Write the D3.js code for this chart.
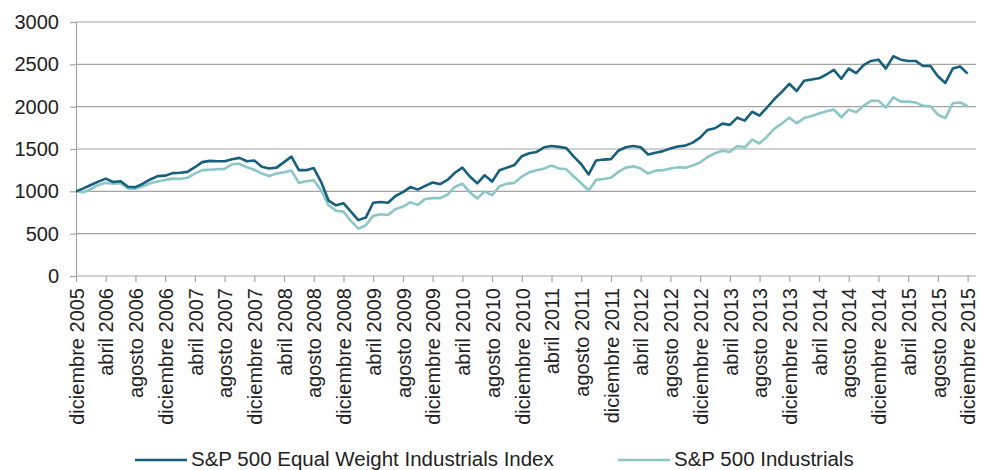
<!DOCTYPE html>
<html>
<head>
<meta charset="utf-8">
<script src="https://cdn.jsdelivr.net/npm/d3@7"></script>
<style>
  body { margin: 0; background: #fff; }
  text { font-family: "Liberation Sans", Arial, sans-serif; fill: #222; }
</style>
</head>
<body>
<div id="canvas"></div>
<script>
// monthly values, diciembre 2005 .. diciembre 2015
const equalWeight = [
  1000, 1035, 1075, 1115, 1150, 1110, 1120, 1055, 1050, 1090, 1140, 1180,
  1185, 1215, 1220, 1230, 1285, 1345, 1360, 1355, 1355, 1380, 1395, 1355,
  1365, 1290, 1270, 1280, 1345, 1410, 1250, 1250, 1275, 1110, 890, 835,
  860, 760, 660, 690, 865, 875, 865, 945, 990, 1050, 1020, 1065,
  1105, 1085, 1135, 1220, 1280, 1175, 1095, 1190, 1115, 1250, 1280, 1310,
  1415, 1450, 1465, 1520, 1535, 1525, 1510, 1410, 1320, 1200, 1365, 1375,
  1380, 1480, 1520, 1535, 1520, 1435, 1455, 1475, 1505, 1530, 1540, 1575,
  1635, 1725, 1745, 1800, 1785, 1870, 1835, 1940, 1895, 1990, 2090, 2175,
  2270, 2185, 2305, 2320, 2335, 2380, 2435, 2330, 2450, 2395, 2490, 2540,
  2555, 2450, 2595, 2555, 2540, 2540, 2480, 2480, 2360, 2280, 2450, 2475,
  2390
];
const industrials = [
  1000, 990, 1025, 1075, 1100, 1090, 1095, 1030, 1030, 1060, 1095, 1115,
  1135, 1150, 1145, 1160, 1210, 1250, 1255, 1260, 1265, 1320, 1325, 1285,
  1255, 1210, 1180, 1210, 1225, 1245, 1100, 1120, 1130, 1010, 835, 770,
  760, 650, 560, 600, 710, 730, 720, 790, 820, 870, 840, 910,
  920, 920, 960, 1055, 1090, 990, 915, 1000, 955, 1060, 1090, 1100,
  1175, 1225, 1250, 1270, 1305, 1270, 1260, 1175, 1095, 1010, 1135, 1145,
  1160, 1230, 1280, 1295, 1270, 1210, 1245, 1250, 1270, 1285, 1280, 1305,
  1340, 1405, 1450, 1480, 1465, 1535, 1520, 1610, 1565, 1645, 1740, 1800,
  1870, 1805, 1865, 1890, 1920, 1945, 1965, 1875, 1965, 1935, 2010, 2070,
  2070, 1990, 2110, 2060, 2060, 2050, 2010, 2005, 1905, 1865, 2040, 2050,
  2005
];
const xLabels = [];
for (let y = 2005; y <= 2015; y++) {
  if (y > 2005) { xLabels.push("abril " + y); xLabels.push("agosto " + y); }
  xLabels.push("diciembre " + y);
}
const yTicks = [0, 500, 1000, 1500, 2000, 2500, 3000];
const seriesNames = ["S&P 500 Equal Weight Industrials Index", "S&P 500 Industrials"];
const colors = ["#17607d", "#8cc6c6"];

const width = 981, height = 470;
const margin = { top: 22, left: 76, bottom: 194, right: 13 };

const svg = d3.select("#canvas").append("svg")
  .attr("width", width)
  .attr("height", height);

const x = d3.scaleLinear()
  .domain([0, equalWeight.length - 1])
  .range([margin.left, 967.6]);

const y = d3.scaleLinear()
  .domain([0, 3000])
  .range([height - margin.bottom, margin.top]);

// gridlines
svg.append("g")
  .selectAll("line")
  .data(yTicks.slice(1))
  .enter()
  .append("line")
  .attr("x1", margin.left)
  .attr("x2", width - 5)
  .attr("y1", d => y(d))
  .attr("y2", d => y(d))
  .attr("stroke", "#a3a3a3")
  .attr("stroke-width", 1.2);

// y axis
const yAxis = svg.append("g")
  .attr("transform", `translate(${margin.left},0)`)
  .call(d3.axisLeft(y).tickValues(yTicks).tickSize(6).tickPadding(11).tickFormat(d3.format("d")));
yAxis.select(".domain").attr("stroke", "#a3a3a3").attr("stroke-width", 1.2);
yAxis.selectAll(".tick line").attr("stroke", "#a3a3a3").attr("stroke-width", 1.2);
yAxis.selectAll("text").style("font-size", "20px");

// x axis
const xTickIdx = d3.range(0, equalWeight.length, 4);
const xAxis = svg.append("g")
  .attr("transform", `translate(0,${y(0)})`)
  .call(d3.axisBottom(x).tickValues(xTickIdx).tickSize(6).tickSizeOuter(0)
    .tickFormat((d, i) => xLabels[i]));
xAxis.select(".domain")
  .attr("d", `M${margin.left},0H${width - 5}`)
  .attr("stroke", "#a3a3a3").attr("stroke-width", 1.2);
xAxis.selectAll(".tick line").attr("stroke", "#a3a3a3").attr("stroke-width", 1.2);
xAxis.selectAll("text")
  .style("font-size", "20px")
  .attr("text-anchor", "end")
  .attr("transform", "rotate(-90)")
  .attr("x", -12)
  .attr("y", 0)
  .attr("dy", "0.36em");

// lines
const line = d3.line()
  .x((d, i) => x(i))
  .y(d => y(d));

[industrials, equalWeight].forEach((data, k) => {
  svg.append("path")
    .datum(data)
    .attr("fill", "none")
    .attr("stroke", k === 0 ? colors[1] : colors[0])
    .attr("stroke-width", 2.6)
    .attr("stroke-linejoin", "round")
    .attr("d", line);
});

// legend
const legendPos = [135, 618];
const legend = svg.append("g");
seriesNames.forEach((name, i) => {
  legend.append("line")
    .attr("x1", legendPos[i]).attr("x2", legendPos[i] + 52)
    .attr("y1", 460).attr("y2", 460)
    .attr("stroke", colors[i])
    .attr("stroke-width", 2.6);
  legend.append("text")
    .attr("x", legendPos[i] + 56)
    .attr("y", 466)
    .style("font-size", "20.5px")
    .text(name);
});
</script>
</body>
</html>
